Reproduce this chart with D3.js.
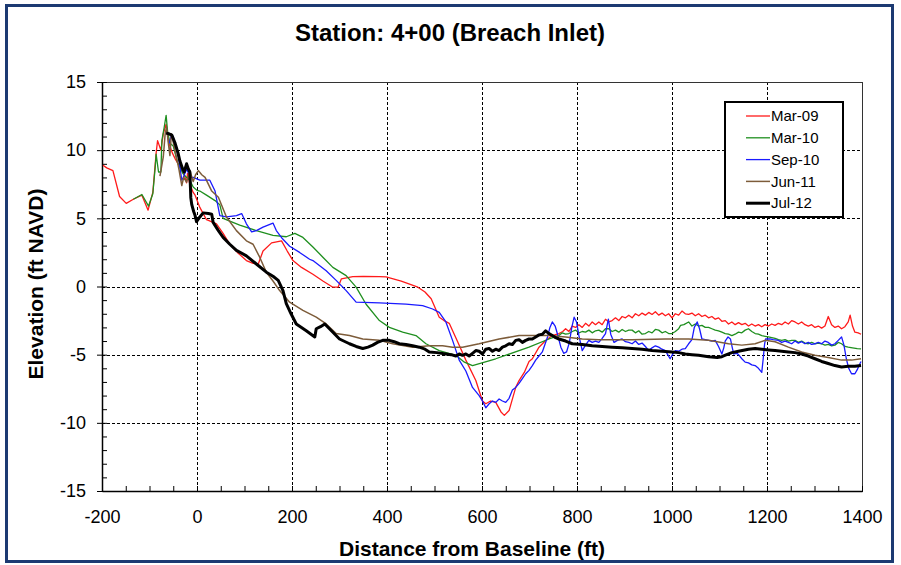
<!DOCTYPE html>
<html lang="en">
<head>
    <meta charset="UTF-8">
    <title>Station: 4+00 (Breach Inlet)</title>
    <script src="https://cdn.jsdelivr.net/npm/d3@7/dist/d3.min.js"></script>
    <style>
        body { margin: 0; background: #fff; }
        text { font-family: "Liberation Sans", Arial, sans-serif; }
    </style>
</head>
<body>
<div class="profile-container"></div>
<script>
    const width = 901
    const height = 565
    const padding = { top: 82, right: 39, bottom: 74, left: 102 }

    const xTicks = [-200, 0, 200, 400, 600, 800, 1000, 1200, 1400]
    const yTicks = [-15, -10, -5, 0, 5, 10, 15]

    // distance (ft), elevation (ft NAVD)
    const mar09 = [[-198,8.9],[-190,8.7],[-177,8.5],[-163,6.6],[-149,6.1],[-134,6.4],[-116,6.7],[-103,5.6],[-93,6.9],[-86,9.8],[-83,10.7],[-76,10.0],[-71,11.2],[-65,11.9],[-60,10.6],[-52,9.8],[-45,9.3],[-38,8.9],[-29,8.5],[-22,7.6],[-20,8.3],[-15,7.5],[-8,6.9],[-4,6.7],[6,5.8],[20,4.9],[24,4.85],[41,4.6],[55,3.9],[69,3.1],[85,2.5],[104,1.9],[118,1.7],[129,1.65],[139,2.6],[157,3.2],[178,3.35],[190,2.6],[202,1.9],[220,1.4],[244,0.9],[265,0.4],[286,-0.05],[297,-0.05],[304,0.56],[328,0.73],[350,0.75],[384,0.73],[398,0.7],[430,0.4],[465,-0.05],[480,-0.4],[493,-0.9],[510,-2.25],[520,-2.5],[531,-2.7],[548,-4.0],[566,-5.4],[587,-6.9],[601,-8.4],[608,-8.6],[618,-8.4],[629,-8.5],[640,-9.2],[647,-9.45],[657,-9.1],[671,-7.4],[678,-6.9],[689,-6.3],[699,-5.5],[706,-5.3],[720,-4.45],[734,-3.96],[748,-3.6],[762,-3.45],[770,-3.3],[776,-3.1],[783,-3.3],[790,-2.9],[797,-3.0],[804,-2.8],[811,-3.0],[818,-2.7],[825,-2.9],[832,-2.6],[839,-2.8],[846,-2.6],[853,-2.8],[860,-2.4],[867,-2.6],[874,-2.5],[881,-2.3],[888,-2.5],[895,-2.2],[902,-2.3],[909,-2.1],[916,-2.3],[923,-2.0],[930,-2.15],[937,-1.95],[944,-2.1],[951,-1.9],[958,-2.05],[965,-1.85],[972,-2.1],[979,-1.95],[986,-2.15],[993,-2.0],[1000,-2.3],[1007,-2.0],[1014,-2.1],[1021,-1.8],[1028,-2.0],[1035,-2.05],[1042,-1.95],[1049,-2.15],[1056,-2.0],[1063,-2.2],[1070,-2.1],[1077,-2.3],[1084,-2.2],[1091,-2.4],[1098,-2.3],[1105,-2.55],[1112,-2.5],[1119,-2.75],[1126,-2.6],[1133,-2.8],[1140,-2.65],[1147,-2.8],[1154,-2.7],[1161,-2.9],[1168,-2.75],[1175,-2.9],[1182,-2.8],[1189,-2.95],[1196,-2.8],[1203,-2.9],[1210,-2.75],[1217,-2.85],[1224,-2.7],[1231,-2.8],[1238,-2.6],[1245,-2.75],[1252,-2.5],[1259,-2.6],[1266,-2.75],[1273,-2.6],[1280,-2.8],[1287,-2.9],[1294,-2.8],[1301,-3.0],[1308,-2.9],[1315,-3.05],[1322,-2.9],[1329,-2.2],[1336,-2.8],[1343,-3.0],[1350,-2.9],[1357,-3.1],[1364,-2.95],[1371,-2.6],[1375,-2.1],[1380,-2.9],[1385,-3.35],[1392,-3.4],[1398,-3.5]]

    const mar10 = [[-134,6.4],[-116,6.75],[-102,5.9],[-93,6.8],[-88,8.75],[-86,9.7],[-81,8.4],[-76,8.4],[-74,10.7],[-69,11.7],[-65,12.55],[-62,11.4],[-57,10.5],[-50,10.3],[-41,9.1],[-30,8.3],[-22,8.0],[-15,7.8],[-8,7.3],[0,7.05],[6,7.0],[20,6.7],[38,6.3],[48,6.0],[55,5.0],[69,4.8],[90,4.5],[125,4.1],[160,3.75],[188,3.65],[206,3.9],[223,3.6],[244,2.9],[265,2.15],[286,1.4],[314,0.8],[335,-0.05],[356,-1.3],[384,-2.5],[405,-3.0],[433,-3.35],[461,-3.6],[482,-4.2],[510,-4.7],[545,-5.05],[563,-5.55],[580,-5.8],[629,-5.3],[699,-4.45],[741,-3.85],[762,-3.6],[769,-3.4],[776,-3.5],[783,-3.45],[790,-3.3],[797,-3.2],[804,-3.4],[811,-3.3],[818,-3.35],[825,-3.2],[832,-3.4],[839,-3.25],[846,-3.2],[853,-3.35],[860,-3.1],[867,-3.1],[874,-3.3],[881,-3.2],[888,-3.35],[895,-3.15],[902,-3.3],[909,-3.2],[916,-3.2],[923,-3.4],[930,-3.25],[937,-3.5],[944,-3.45],[951,-3.3],[958,-3.4],[965,-3.15],[972,-3.2],[979,-3.4],[986,-3.3],[993,-3.45],[1000,-3.45],[1007,-3.3],[1014,-3.1],[1018,-2.85],[1025,-2.8],[1035,-2.6],[1042,-2.9],[1049,-2.75],[1056,-2.9],[1063,-2.85],[1070,-3.0],[1077,-3.0],[1084,-3.1],[1091,-3.2],[1098,-3.25],[1105,-3.35],[1112,-3.45],[1119,-3.5],[1126,-3.6],[1133,-3.5],[1140,-3.35],[1147,-3.4],[1154,-3.2],[1161,-3.1],[1168,-3.3],[1175,-3.45],[1182,-3.5],[1189,-3.6],[1196,-3.65],[1203,-3.7],[1210,-3.75],[1217,-3.8],[1224,-3.9],[1231,-3.95],[1238,-3.9],[1245,-4.0],[1252,-3.95],[1259,-3.95],[1266,-4.1],[1273,-4.0],[1280,-4.15],[1287,-4.2],[1294,-4.1],[1301,-4.2],[1308,-4.15],[1315,-4.2],[1322,-4.3],[1329,-4.25],[1336,-4.35],[1343,-4.3],[1350,-4.1],[1357,-4.2],[1364,-4.4],[1371,-4.45],[1380,-4.5],[1390,-4.55],[1398,-4.57]]

    const sep10 = [[-58,10.5],[-54,11.2],[-50,11.0],[-46,10.4],[-39,9.5],[-32,7.8],[-29,8.0],[-22,8.6],[-15,8.1],[-11,8.0],[-8,8.0],[6,7.8],[20,7.8],[27,7.8],[38,7.0],[48,5.2],[62,5.1],[83,5.2],[94,5.35],[104,4.6],[115,4.0],[125,4.1],[139,4.35],[160,4.65],[167,4.1],[180,3.5],[195,2.95],[216,2.5],[237,2.0],[244,1.9],[272,1.15],[293,0.45],[314,-0.3],[335,-1.15],[384,-1.2],[440,-1.3],[475,-1.4],[496,-1.65],[510,-1.9],[524,-2.6],[538,-3.95],[552,-5.4],[566,-6.2],[580,-7.4],[594,-8.0],[601,-8.4],[608,-8.9],[615,-8.6],[622,-8.4],[629,-8.5],[636,-8.25],[643,-8.4],[650,-8.5],[657,-8.2],[664,-7.6],[671,-7.4],[678,-7.1],[685,-6.75],[692,-6.4],[699,-6.15],[706,-5.8],[713,-5.4],[720,-5.1],[727,-4.8],[733,-4.2],[738,-3.7],[743,-3.0],[748,-2.6],[754,-2.9],[759,-3.5],[766,-4.45],[772,-4.9],[778,-4.8],[784,-4.1],[789,-3.0],[794,-2.25],[799,-2.6],[804,-3.6],[811,-4.7],[818,-4.3],[825,-3.95],[832,-4.1],[839,-4.0],[846,-4.1],[853,-3.8],[860,-3.45],[866,-2.4],[871,-3.5],[878,-4.1],[885,-3.95],[895,-3.85],[902,-4.05],[909,-4.1],[916,-4.2],[923,-4.0],[930,-4.25],[937,-4.15],[944,-4.4],[951,-4.7],[958,-4.5],[965,-4.35],[972,-4.45],[979,-4.6],[986,-4.7],[991,-5.0],[996,-5.3],[1001,-5.0],[1007,-4.7],[1014,-4.75],[1021,-4.6],[1028,-4.55],[1035,-4.2],[1042,-3.9],[1047,-3.0],[1053,-2.6],[1058,-3.1],[1063,-3.85],[1070,-3.9],[1077,-3.95],[1084,-4.0],[1091,-3.95],[1098,-4.4],[1105,-4.95],[1109,-4.5],[1112,-4.0],[1118,-3.7],[1123,-3.85],[1127,-4.5],[1130,-4.95],[1137,-4.9],[1140,-5.0],[1147,-5.3],[1154,-5.55],[1161,-5.6],[1168,-5.75],[1175,-5.8],[1182,-6.0],[1189,-6.3],[1192,-5.3],[1195,-4.2],[1197,-3.85],[1206,-3.85],[1213,-3.9],[1224,-3.95],[1231,-4.1],[1238,-4.0],[1245,-4.1],[1252,-4.2],[1259,-4.0],[1266,-4.15],[1273,-4.05],[1280,-4.2],[1287,-4.1],[1294,-4.25],[1301,-4.2],[1308,-4.1],[1315,-4.2],[1322,-4.0],[1329,-4.1],[1336,-4.3],[1343,-4.2],[1350,-3.95],[1357,-3.7],[1362,-4.3],[1367,-5.3],[1372,-6.0],[1378,-6.4],[1385,-6.4],[1390,-6.1],[1395,-5.7],[1398,-5.5]]

    const jun11 = [[-78,8.1],[-71,9.5],[-67,11.2],[-64,11.7],[-60,10.4],[-57,9.6],[-54,11.2],[-50,10.6],[-44,9.6],[-38,8.6],[-32,7.4],[-28,8.0],[-22,7.65],[-15,8.5],[-8,7.7],[-3,8.2],[3,8.5],[10,8.2],[17,8.0],[31,7.0],[45,6.55],[62,5.1],[83,4.1],[104,3.35],[118,3.1],[132,2.15],[146,1.05],[160,0.4],[174,-0.3],[195,-1.15],[223,-1.75],[251,-2.25],[272,-2.75],[293,-3.45],[321,-3.6],[349,-3.85],[384,-3.95],[412,-4.2],[454,-4.45],[489,-4.35],[517,-4.35],[538,-4.45],[559,-4.45],[594,-4.2],[636,-3.85],[678,-3.6],[706,-3.6],[741,-3.6],[776,-3.7],[811,-3.85],[846,-3.9],[916,-3.9],[986,-3.85],[1035,-3.85],[1077,-3.95],[1119,-4.2],[1147,-4.3],[1175,-4.2],[1196,-3.95],[1217,-4.05],[1245,-4.45],[1273,-4.8],[1301,-5.05],[1329,-5.2],[1357,-5.4],[1378,-5.4],[1398,-5.3]]

    const jul12 = [[-65,11.25],[-59,11.2],[-53,11.1],[-46,10.5],[-40,9.8],[-36,9.2],[-30,8.6],[-27,8.4],[-22,9.0],[-18,8.6],[-15,8.4],[-13,6.5],[-11,6.0],[-7,5.5],[-4,5.2],[-1,4.75],[6,5.1],[13,5.4],[24,5.35],[31,5.3],[34,4.7],[45,4.1],[55,3.6],[69,3.1],[83,2.65],[104,2.25],[125,1.65],[146,1.05],[160,0.75],[171,0.45],[181,-0.3],[188,-1.25],[198,-2.0],[209,-2.75],[230,-3.25],[248,-3.7],[251,-3.1],[260,-2.95],[269,-2.75],[283,-3.25],[300,-3.85],[321,-4.2],[335,-4.4],[349,-4.55],[360,-4.45],[370,-4.3],[380,-4.1],[391,-3.95],[405,-3.95],[415,-4.05],[426,-4.2],[440,-4.25],[454,-4.35],[468,-4.45],[480,-4.6],[489,-4.8],[505,-4.85],[524,-4.95],[535,-5.0],[545,-5.1],[552,-4.95],[559,-5.05],[566,-4.95],[573,-5.1],[580,-4.9],[587,-4.7],[594,-4.75],[601,-4.95],[608,-4.6],[615,-4.55],[622,-4.75],[629,-4.6],[636,-4.7],[643,-4.45],[650,-4.35],[657,-4.2],[664,-4.25],[671,-3.95],[678,-3.9],[685,-4.1],[692,-3.95],[699,-3.85],[706,-3.85],[713,-3.7],[720,-3.55],[727,-3.5],[734,-3.25],[741,-3.45],[748,-3.6],[755,-3.75],[762,-3.85],[776,-4.0],[790,-4.2],[811,-4.25],[832,-4.35],[853,-4.4],[874,-4.45],[895,-4.5],[916,-4.55],[937,-4.6],[958,-4.7],[979,-4.75],[1000,-4.8],[1014,-4.85],[1028,-4.95],[1042,-5.0],[1056,-5.05],[1077,-5.15],[1095,-5.2],[1105,-5.15],[1115,-5.0],[1126,-4.85],[1140,-4.75],[1161,-4.6],[1175,-4.55],[1189,-4.6],[1203,-4.65],[1217,-4.7],[1231,-4.75],[1245,-4.8],[1259,-4.85],[1273,-4.95],[1287,-5.1],[1301,-5.3],[1315,-5.5],[1329,-5.65],[1343,-5.8],[1357,-5.9],[1371,-5.85],[1385,-5.85],[1398,-5.8]]

    const seriesNames = ['Mar-09', 'Mar-10', 'Sep-10', 'Jun-11', 'Jul-12']
    const seriesData = [mar09, mar10, sep10, jun11, jul12]
    const seriesColors = ['#ff1a1a', '#1f8f1f', '#1a1aff', '#7d5c3a', '#000000']
    const seriesWidths = [1.3, 1.3, 1.3, 1.5, 3]

    const plotW = width - padding.left - padding.right
    const plotH = height - padding.top - padding.bottom

    const xScale = d3.scaleLinear().domain([-200, 1400]).range([0, plotW])
    const yScale = d3.scaleLinear().domain([-15, 15]).range([plotH, 0])

    const svg = d3.select('.profile-container')
        .append('svg')
        .attr('width', width)
        .attr('height', height)

    // outer frame
    svg.append('rect')
        .attr('x', 6.5).attr('y', 5.5)
        .attr('width', 886).attr('height', 556)
        .attr('fill', '#fff')
        .attr('stroke', '#1c3a72')
        .attr('stroke-width', 3)

    svg.append('text')
        .attr('x', 450).attr('y', 41)
        .attr('text-anchor', 'middle')
        .attr('font-size', '24px')
        .attr('font-weight', 'bold')
        .text('Station: 4+00 (Breach Inlet)')

    const g = svg.append('g')
        .attr('transform', `translate(${padding.left}, ${padding.top})`)

    // dashed grid
    g.selectAll('.vgrid')
        .data(xTicks.slice(1, -1))
        .enter().append('line')
        .attr('class', 'vgrid')
        .attr('x1', d => Math.round(xScale(d)) + 0.5).attr('x2', d => Math.round(xScale(d)) + 0.5)
        .attr('y1', 0).attr('y2', plotH)
        .attr('stroke', '#000').attr('stroke-dasharray', '3,2')

    g.selectAll('.hgrid')
        .data(yTicks.slice(1, -1))
        .enter().append('line')
        .attr('class', 'hgrid')
        .attr('x1', 0).attr('x2', plotW)
        .attr('y1', d => Math.round(yScale(d)) + 0.5).attr('y2', d => Math.round(yScale(d)) + 0.5)
        .attr('stroke', '#000').attr('stroke-dasharray', '3,2')

    // frame
    g.append('rect')
        .attr('x', 0.5).attr('y', 0.5)
        .attr('width', plotW).attr('height', plotH)
        .attr('fill', 'none')
        .attr('stroke', '#333').attr('stroke-width', 1)

    // minor ticks
    const xMinor = d3.axisBottom(xScale).tickValues(d3.range(-200, 1401, 50)).tickSize(-5).tickFormat('')
    const yMinor = d3.axisLeft(yScale).tickValues(d3.range(-15, 16, 1)).tickSize(-5).tickFormat('')
    g.append('g').attr('transform', `translate(0, ${plotH})`).call(xMinor)
    g.append('g').call(yMinor)

    // major axes
    const fmt = d => String(d)
    const xAxis = d3.axisBottom(xScale).tickValues(xTicks).tickSize(0).tickPadding(19).tickSizeOuter(0).tickFormat(fmt)
    const yAxis = d3.axisLeft(yScale).tickValues(yTicks).tickSize(5).tickPadding(11).tickSizeOuter(0).tickFormat(fmt)
    const xg = g.append('g').attr('transform', `translate(0, ${plotH})`).call(xAxis)
    const yg = g.append('g').call(yAxis)

    ;[xg, yg].forEach(a => {
        a.selectAll('text').attr('font-size', '18px').attr('fill', '#000')
            .attr('font-family', '"Liberation Sans", Arial, sans-serif')
        a.select('.domain').attr('stroke', '#000').attr('stroke-width', 1.5)
    })
    g.selectAll('.tick line').attr('stroke', '#000')

    // profiles
    const line = d3.line()
        .x(d => xScale(d[0]))
        .y(d => yScale(d[1]))

    g.selectAll('.profile')
        .data(seriesData)
        .enter().append('path')
        .attr('class', 'profile')
        .attr('fill', 'none')
        .attr('stroke', (d, i) => seriesColors[i])
        .attr('stroke-width', (d, i) => seriesWidths[i])
        .attr('stroke-linejoin', 'round')
        .attr('d', line)

    // axis titles
    svg.append('text')
        .attr('x', 472).attr('y', 556)
        .attr('text-anchor', 'middle')
        .attr('font-size', '21px').attr('font-weight', 'bold')
        .text('Distance from Baseline (ft)')

    svg.append('text')
        .attr('transform', 'translate(43, 284) rotate(-90)')
        .attr('text-anchor', 'middle')
        .attr('font-size', '21px').attr('font-weight', 'bold')
        .text('Elevation (ft NAVD)')

    // legend
    const legend = svg.append('g').attr('transform', 'translate(725, 102)')
    legend.append('rect')
        .attr('width', 118).attr('height', 115)
        .attr('fill', '#fff')
        .attr('stroke', '#000').attr('stroke-width', 2)

    const items = legend.selectAll('.item')
        .data(seriesNames)
        .enter().append('g')
        .attr('class', 'item')
        .attr('transform', (d, i) => `translate(0, ${14 + i * 21.8})`)

    items.append('line')
        .attr('x1', 21).attr('x2', 45)
        .attr('stroke', (d, i) => seriesColors[i])
        .attr('stroke-width', (d, i) => seriesWidths[i])

    items.append('text')
        .attr('x', 46).attr('dy', '0.35em')
        .attr('font-size', '15px')
        .text(d => d)
</script>
</body>
</html>
